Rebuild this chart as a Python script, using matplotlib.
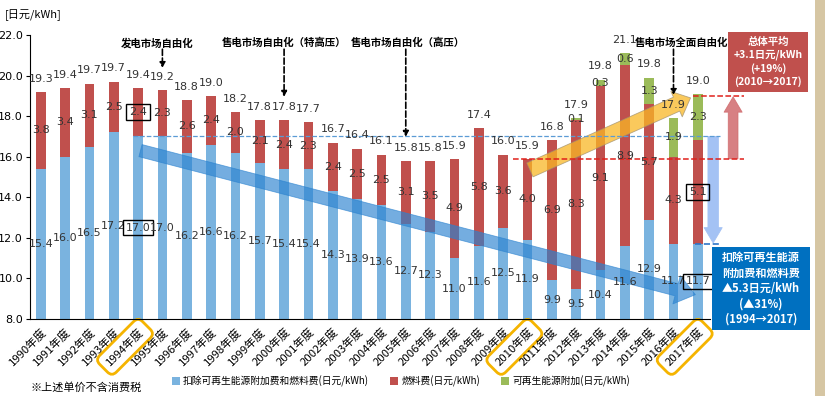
import matplotlib.pyplot as plt
from matplotlib.patches import FancyArrowPatch, Rectangle

plt.rcParams['font.family'] = ['DejaVu Sans', 'Noto Sans CJK SC']

# 数据（日元/kWh）
years = list(range(1990, 2018))
base = [15.4, 16.0, 16.5, 17.2, 17.0, 17.0, 16.2, 16.6, 16.2, 15.7, 15.4, 15.4, 14.3, 13.9,
        13.6, 12.7, 12.3, 11.0, 11.6, 12.5, 11.9, 9.9, 9.5, 10.4, 11.6, 12.9, 11.7, 11.7]
fuel = [3.8, 3.4, 3.1, 2.5, 2.4, 2.3, 2.6, 2.4, 2.0, 2.1, 2.4, 2.3, 2.4, 2.5,
        2.5, 3.1, 3.5, 4.9, 5.8, 3.6, 4.0, 6.9, 8.3, 9.1, 8.9, 5.7, 4.3, 5.1]
renew = [0, 0, 0, 0, 0, 0, 0, 0, 0, 0, 0, 0, 0, 0,
         0, 0, 0, 0, 0, 0, 0, 0, 0.1, 0.3, 0.6, 1.3, 1.9, 2.3]
totals = [19.3, 19.4, 19.7, 19.7, 19.4, 19.2, 18.8, 19.0, 18.2, 17.8, 17.8, 17.7, 16.7, 16.4,
          16.1, 15.8, 15.8, 15.9, 17.4, 16.0, 15.9, 16.8, 17.9, 19.8, 21.1, 19.8, 17.9, 19.0]
tick_labels = [f'{y}年度' for y in years]
boxed_years = [1994, 2010, 2017]

c_blue, c_red, c_green = '#7ab3df', '#c0504d', '#9bbb59'
cjk = ['Noto Sans CJK SC', 'DejaVu Sans']

fig = plt.figure(figsize=(8.25, 3.96), dpi=100)
ax = fig.add_axes([30/825, 1-319/396, 680/825, 284/396])
x = list(range(len(years)))
w = 0.4
bottom2 = [b + f for b, f in zip(base, fuel)]
ax.bar(x, base, w, color=c_blue, bottom=0, label='扣除可再生能源附加费和燃料费(日元/kWh)')
ax.bar(x, fuel, w, bottom=base, color=c_red, label='燃料费(日元/kWh)')
ax.bar(x, renew, w, bottom=bottom2, color=c_green, label='可再生能源附加(日元/kWh)')

ax.set_ylim(8, 22)
ax.set_xlim(-0.44, 27.5)
ax.set_yticks([8, 10, 12, 14, 16, 18, 20, 22])
ax.set_yticklabels([f'{v:.1f}' for v in ax.get_yticks()], fontsize=8)
ax.set_xticks(x)
ax.set_xticklabels(tick_labels, rotation=45, ha='right', rotation_mode='anchor',
                   fontsize=8.2, family=cjk)
ax.tick_params(axis='x', length=0, pad=5)
ax.tick_params(axis='y', length=3, pad=2)
for s in ['top', 'right']:
    ax.spines[s].set_visible(False)
for lab, y in zip(ax.get_xticklabels(), years):
    if y in boxed_years:
        lab.set_bbox(dict(boxstyle='round,pad=0.55', fc='none', ec='#f5b400', lw=2))

# 数值标签
lab_kw = dict(ha='center', va='center', fontsize=8, color='#333333')
for i in x:
    t1 = ax.text(i, (8 + base[i]) / 2, f'{base[i]:.1f}', **lab_kw)
    t2 = ax.text(i, base[i] + fuel[i] / 2, f'{fuel[i]:.1f}', **lab_kw)
    if renew[i] > 0:
        ax.text(i, bottom2[i] + renew[i] / 2, f'{renew[i]:.1f}', **lab_kw)
    ax.annotate(f'{totals[i]:.1f}', (i, bottom2[i] + renew[i]), xytext=(0, 9.5),
                textcoords='offset points', **lab_kw)
    if years[i] in (1994, 2017):
        for t in (t1, t2):
            t.set_bbox(dict(boxstyle='square,pad=0.25', fc='none', ec='black', lw=1))

# 参考虚线
ax.plot([3.8, 27.9], [17.0, 17.0], ls='--', color='#5b9bd5', lw=0.9, clip_on=False)
ax.plot([26.9, 27.9], [11.7, 11.7], ls='--', color='#2e75c8', lw=1.2, clip_on=False)
ax.plot([19.4, 28.9], [15.9, 15.9], ls='--', color='#e0201b', lw=1.1, clip_on=False)
ax.plot([26.8, 28.9], [19.0, 19.0], ls='--', color='#e0201b', lw=1.1, clip_on=False)

# 大箭头
arrows = [
    ((4.1, 16.3), (26.9, 9.2), '#2a82d0', 0.65, 'simple,head_length=1.4,head_width=2.1,tail_width=0.9'),
    ((20.1, 15.35), (26.7, 18.9), '#f9b826', 0.75, 'simple,head_length=1.1,head_width=2.0,tail_width=1.1'),
    ((28.45, 15.9), (28.45, 18.95), '#d06a6d', 0.85, 'simple,head_length=1.1,head_width=1.3,tail_width=0.7'),
    ((27.63, 17.0), (27.63, 11.75), '#a4c2f4', 1.0, 'simple,head_length=1.1,head_width=1.3,tail_width=0.75'),
]
for a, b, col, al, st in arrows:
    p = FancyArrowPatch(a, b, arrowstyle=st, mutation_scale=10, color=col, alpha=al,
                        shrinkA=0, shrinkB=0, clip_on=False, lw=0.6)
    if col == '#f9b826':
        p.set_edgecolor('#a09070')
    ax.add_patch(p)

# 政策节点注释
events = [('发电市场自由化', 5.0, 20.37, 4.8),
          ('售电市场自由化（特高压）', 10.0, 18.95, 10.0),
          ('售电市场自由化（高压）', 15.0, 16.98, 15.1),
          ('售电市场全面自由化', 26.0, 19.04, 26.35)]
for txt, xi, tip, tx in events:
    ax.annotate('', xy=(xi, tip), xytext=(xi, 21.3),
                arrowprops=dict(arrowstyle='-|>', ls='--', lw=1.2, color='black',
                                mutation_scale=8, shrinkA=0, shrinkB=0))
    ax.text(tx, 21.6, txt, ha='center', va='center', fontsize=7.5,
            fontweight='bold', family=cjk)

ax.legend(loc='center', bbox_to_anchor=(401/825, 15/396), bbox_transform=fig.transFigure,
          ncol=3, frameon=False, prop={'family': cjk, 'size': 7}, handlelength=0.8,
          handleheight=0.8, handletextpad=0.3, columnspacing=2.2)

fig.text(5/825, 1-15/396, '[日元/kWh]', fontsize=8, va='center', family=cjk)
fig.text(30/825, 1-388/396, '※上述单价不含消费税', fontsize=8, va='center', family=cjk)

# 右侧说明框
fig.patches.append(Rectangle((728/825, 1-92/396), 80/825, 60/396, transform=fig.transFigure,
                             fc='#c0504d', ec='none'))
fig.text(768/825, 1-62/396, '总体平均\n+3.1日元/kWh\n(+19%)\n(2010→2017)', ha='center',
         va='center', color='white', fontsize=7.5, fontweight='bold', family=cjk,
         linespacing=1.3)
fig.patches.append(Rectangle((712/825, 1-330/396), 98/825, 83/396, transform=fig.transFigure,
                             fc='#0070c0', ec='none'))
fig.text(761/825, 1-288.5/396, '扣除可再生能源\n附加费和燃料费\n▲5.3日元/kWh\n(▲31%)\n(1994→2017)',
         ha='center', va='center', color='white', fontsize=8, fontweight='bold', family=cjk,
         linespacing=1.25)
fig.patches.append(Rectangle((815/825, 0), 10/825, 1, transform=fig.transFigure,
                             fc='#d6c6a3', ec='none'))

fig.savefig('out.png', dpi=100)
